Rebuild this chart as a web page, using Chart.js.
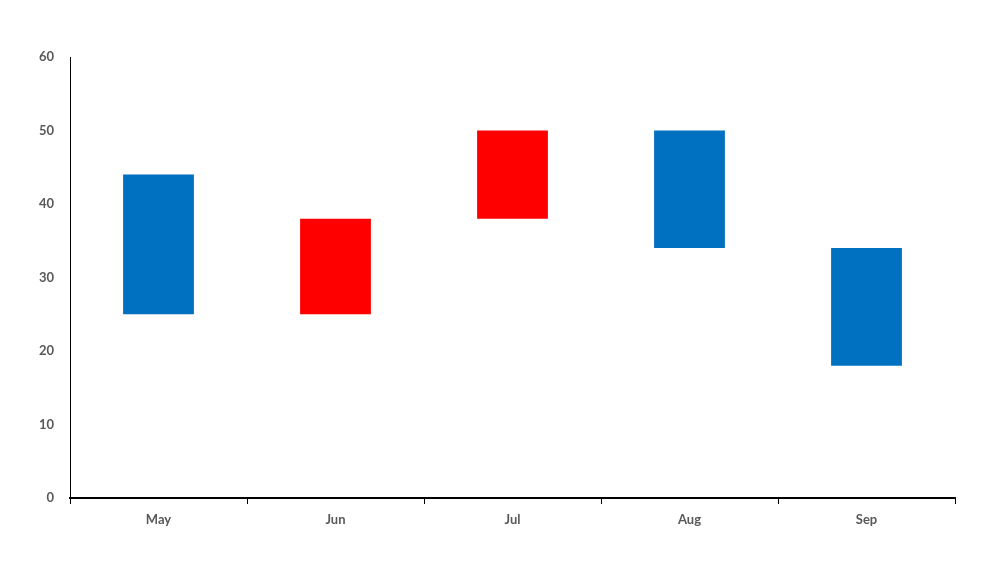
<!DOCTYPE html>
<html>
<head>
<meta charset="utf-8">
<script src="https://cdn.jsdelivr.net/npm/chart.js@4"></script>
<style>
  html, body { margin: 0; padding: 0; background: #fff; }
  #wrap { width: 1000px; height: 563px; }
</style>
</head>
<body>
<div id="wrap"><canvas id="chart" width="1000" height="563"></canvas></div>
<script>
// Dados do gráfico
const months = ['May', 'Jun', 'Jul', 'Aug', 'Sep'];
const lowValues = [25, 25, 38, 34, 18];
const highValues = [44, 38, 50, 50, 34];
const barColors = ['#0070C0', '#FF0000', '#FF0000', '#0070C0', '#0070C0'];
const yTicks = [0, 10, 20, 30, 40, 50, 60];

const tickFont = { family: 'Lato, "Open Sans", sans-serif', size: 13, weight: 'bold' };

const ctx = document.getElementById('chart').getContext('2d');
new Chart(ctx, {
  type: 'bar',
  data: {
    labels: months,
    datasets: [{
      data: months.map((m, i) => [lowValues[i], highValues[i]]),
      backgroundColor: barColors,
      borderWidth: 0,
      barPercentage: 0.4,
      categoryPercentage: 1
    }]
  },
  options: {
    responsive: false,
    animation: false,
    layout: { padding: { top: 57, right: 45, left: 0, bottom: 0 } },
    plugins: { legend: { display: false }, tooltip: { enabled: false } },
    scales: {
      x: {
        grid: { display: true, drawOnChartArea: false, drawTicks: true, tickLength: 6, color: '#000', offset: true },
        border: { display: true, color: '#000', width: 2 },
        ticks: { color: '#595959', font: tickFont, padding: 8 },
        afterFit: s => { s.height = 65; }
      },
      y: {
        min: 0,
        max: 60,
        afterBuildTicks: s => { s.ticks = yTicks.map(v => ({ value: v })); },
        grid: { display: false },
        border: { display: true, color: '#000', width: 1 },
        ticks: { color: '#595959', font: tickFont, padding: 8 },
        afterFit: s => { s.width = 70; }
      }
    }
  }
});
</script>
</body>
</html>
